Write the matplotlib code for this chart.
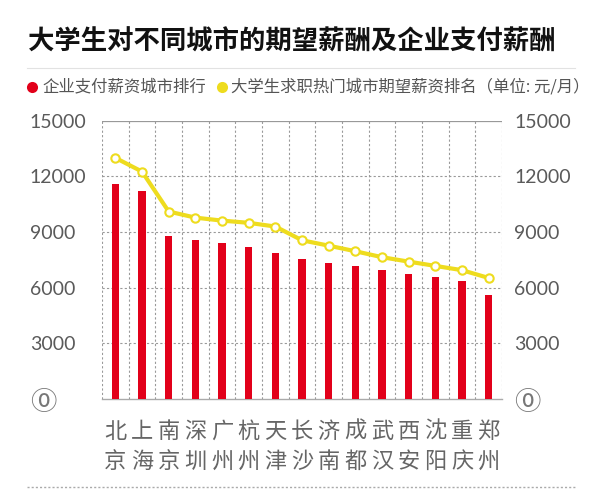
import matplotlib
matplotlib.use("Agg")
import matplotlib.pyplot as plt
import matplotlib.transforms as mtransforms
import numpy as np

plt.rcParams['font.family'] = ['Noto Sans CJK SC', 'DejaVu Sans']

cities = ["北京", "上海", "南京", "深圳", "广州", "杭州", "天津", "长沙",
          "济南", "成都", "武汉", "西安", "沈阳", "重庆", "郑州"]
company_pay = [11600, 11200, 8770, 8590, 8390, 8190, 7890, 7550,
               7310, 7190, 6940, 6760, 6580, 6330, 5620]
student_expect = [12990, 12250, 10100, 9770, 9610, 9490, 9290, 8550,
                  8260, 7960, 7640, 7400, 7170, 6940, 6520]
yticks = [0, 3000, 6000, 9000, 12000, 15000]
ytick_labels = ["⓪", "3000", "6000", "9000", "12000", "15000"]

title = "大学生对不同城市的期望薪酬及企业支付薪酬"
legend1 = "企业支付薪资城市排行"
legend2 = "大学生求职热门城市期望薪资排名（单位: 元/月）"

RED = "#E2001A"
YEL = "#EEDC1E"
GRAY = "#555555"

fig = plt.figure(figsize=(6, 4.92), dpi=100)
ax = fig.add_axes([0.17, 0.189, 0.6667, 0.566])

x = np.arange(len(cities))
ax.bar(x, company_pay, width=0.28, color=RED, zorder=3)
ax.plot(x, student_expect, color=YEL, lw=3, zorder=4,
        marker="o", markersize=6, markerfacecolor="white",
        markeredgecolor=YEL, markeredgewidth=1.5)

ax.set_xlim(-0.5, len(cities) - 0.5)
ax.set_ylim(0, 15000)

# gridlines
for v in yticks[1:-1]:
    ax.axhline(v, color="#999999", lw=0.8, ls=(0, (2, 2)), zorder=1)
for i in range(len(cities) + 1):
    ax.axvline(i - 0.5, color="#999999", lw=0.8, ls=(0, (2, 2)), zorder=1)
ax.axhline(15000, color="#999999", lw=0.9, zorder=1)

for s in ["left", "right", "top"]:
    ax.spines[s].set_visible(False)
ax.spines["bottom"].set_color("#aaaaaa")
ax.spines["bottom"].set_linewidth(1.0)

# y tick labels on both sides, left-aligned
ax.set_yticks(yticks)
ax.set_yticklabels(ytick_labels, fontsize=14, color="#5a5a5a",
                   family=["Lato", "DejaVu Sans"])
ax.tick_params(axis="y", length=0, labelright=True, right=False)
right_shift = mtransforms.ScaledTranslation(12 / 100, 0, fig.dpi_scale_trans)
for k, t in enumerate(ax.yaxis.get_major_ticks()):
    t.set_pad(52)
    t.label1.set_horizontalalignment("left")
    t.label2.set_horizontalalignment("left")
    t.label2.set_transform(ax.get_yaxis_transform(which="tick2") + right_shift)
    if k == 0:
        for lab in (t.label1, t.label2):
            lab.set_fontsize(19)
            lab.set_family(["Noto Sans CJK SC", "DejaVu Sans"])
            lab.set_color("#777777")

ax.set_xticks(x)
ax.set_xticklabels(["\n".join(c) for c in cities], fontsize=16, color="#666666",
                   linespacing=1.4)
ax.tick_params(axis="x", length=0, pad=15)

# title and legend
fig.text(0.046, 0.915, title, fontsize=19, fontweight="bold", color="#111111",
         va="center", ha="left")
fig.add_artist(plt.Line2D([0.045, 0.958], [0.862, 0.862], color="#e2e2e2", lw=0.8))
ly = 1 - 86.7 / 492
fig.add_artist(plt.Line2D([31.5 / 600], [ly], marker="o", markersize=8,
                          color=RED, markeredgewidth=0))
fig.text(42 / 600, ly, legend1, color=GRAY, fontsize=11.8, va="center", ha="left")
fig.add_artist(plt.Line2D([221.5 / 600], [ly], marker="o", markersize=8,
                          color=YEL, markeredgewidth=0))
fig.text(231 / 600, ly, legend2, color=GRAY, fontsize=11.8, va="center", ha="left")
fig.add_artist(plt.Line2D([0.045, 0.958], [0.0102, 0.0102], color="#aaaaaa", lw=1.0,
                          ls=(0, (1.5, 1.5))))

fig.savefig("out.png", dpi=100, facecolor="white")
